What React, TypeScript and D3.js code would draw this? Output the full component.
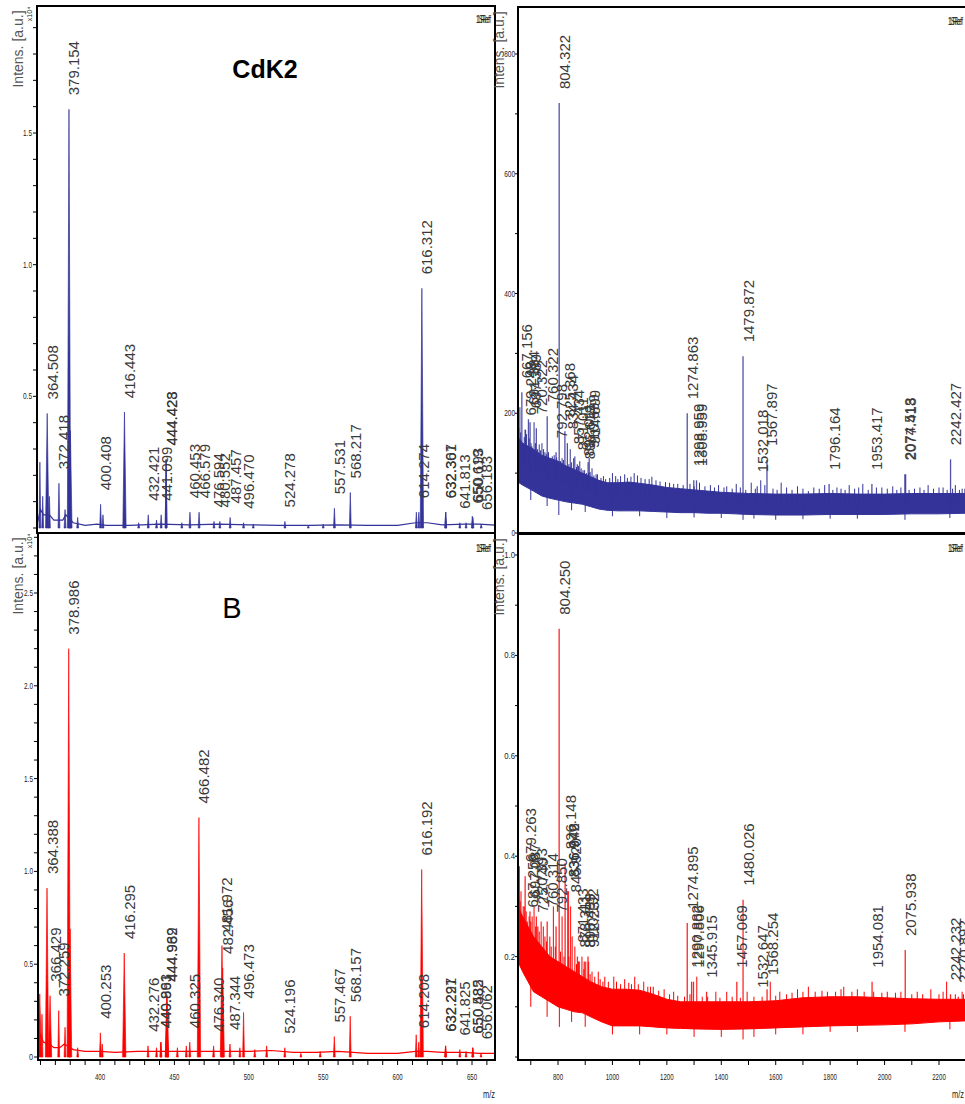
import React from 'react';
import * as d3 from 'd3';

const FONT = '"Liberation Sans", Arial, Helvetica, sans-serif';
const BLUE = '#333399';
const RED = '#ff0000';

// CdK2, low mass range (intensity x10^4): labelled peaks
const cdkLowPeaks: [number, number][] = [
  [364.508, 0.435], [372.418, 0.17], [379.154, 1.59], [400.408, 0.09], [416.443, 0.44],
  [432.421, 0.05], [441.099, 0.05], [444.423, 0.26], [444.428, 0.26], [460.453, 0.06],
  [466.579, 0.06], [476.594, 0.025], [480.552, 0.025], [487.457, 0.04], [496.470, 0.02],
  [524.278, 0.025], [557.531, 0.075], [568.217, 0.135], [614.274, 0.06], [616.312, 0.91],
  [632.307, 0.06], [632.361, 0.06], [641.813, 0.02], [650.193, 0.045], [650.619, 0.04],
  [656.183, 0.015],
];
const cdkLowMinor: [number, number][] = [
  [359.6, 0.25], [361.5, 0.12], [366.0, 0.12], [376.5, 0.07], [380.1, 0.37], [385, 0.04],
  [402, 0.05], [426, 0.02], [438, 0.03], [455, 0.02], [503, 0.015], [540, 0.01],
  [550, 0.015], [612.6, 0.06], [646, 0.02],
];
const cdkLowBaseline: [number, number][] = [
  [358, 0.02], [360, 0.07], [362, 0.05], [366, 0.05], [369, 0.03], [372, 0.03], [375, 0.03],
  [377, 0.05], [382, 0.02], [390, 0.01], [398, 0.015], [404, 0.01], [420, 0.01], [440, 0.015],
  [460, 0.012], [480, 0.015], [500, 0.012], [520, 0.01], [540, 0.01], [560, 0.012],
  [580, 0.01], [600, 0.01], [612, 0.02], [620, 0.02], [630, 0.012], [645, 0.015],
  [655, 0.015], [667, 0.01],
];

// CdK2, high mass range (counts)
const cdkHighPeaks: [number, number][] = [
  [667.156, 235], [679.248, 173], [691.384, 190], [697.389, 185], [720.322, 175],
  [760.322, 195], [792.798, 135], [804.322, 718], [825.368, 170], [834.434, 150],
  [857.434, 125], [871.011, 115], [892.011, 105], [896.619, 100], [910.699, 118],
  [914.699, 125], [1274.863, 200], [1298.959, 88], [1308.959, 88], [1479.872, 295],
  [1532.018, 78], [1567.897, 122], [1796.164, 82], [1953.417, 82], [2074.513, 98],
  [2077.418, 98], [2242.427, 123],
];
const cdkHighMinor: [number, number][] = [
  [656, 175], [660, 210], [663, 168], [672, 150], [676, 160], [681, 172], [684, 165],
  [694, 158], [701, 150], [704, 145], [712, 185], [717, 150], [725, 140], [731, 148],
  [736, 138], [741, 150], [747, 140], [752, 135], [757, 132], [765, 135], [772, 125],
  [779, 128], [786, 130], [795, 126], [809, 120], [815, 125], [820, 122], [840, 115],
  [845, 140], [850, 118], [862, 128], [868, 110], [875, 112], [880, 120], [885, 108],
  [898, 105], [905, 100], [912, 100], [918, 102], [925, 108], [932, 96], [940, 98],
  [945, 98], [958, 92], [967, 95], [975, 90], [990, 92], [1000, 100], [1012, 95],
  [1020, 90], [1030, 95], [1045, 98], [1055, 92], [1068, 94], [1080, 100], [1092, 96],
  [1105, 92], [1120, 90], [1135, 90], [1145, 94], [1160, 88], [1175, 86], [1195, 85],
  [1210, 84], [1225, 82], [1240, 82], [1260, 80], [1285, 82], [1300, 78], [1320, 84],
  [1340, 78], [1360, 80], [1375, 76], [1390, 80], [1410, 76], [1420, 78], [1440, 74],
  [1455, 82], [1470, 76], [1490, 72], [1510, 84], [1525, 74], [1545, 88], [1560, 80],
  [1590, 74], [1605, 72], [1620, 84], [1640, 76], [1660, 72], [1680, 78], [1700, 74],
  [1720, 70], [1740, 76], [1760, 74], [1780, 80], [1810, 72], [1825, 76], [1840, 74],
  [1855, 72], [1870, 80], [1890, 74], [1905, 76], [1920, 82], [1940, 72], [1970, 76],
  [1990, 76], [2010, 74], [2030, 78], [2045, 72], [2060, 76], [2090, 72], [2110, 74],
  [2130, 76], [2145, 72], [2160, 80], [2180, 74], [2200, 76], [2215, 76], [2230, 72],
  [2250, 74], [2260, 80], [2275, 72], [2285, 74], [2295, 74],
];
const cdkHighDips: [number, number][] = [
  [700, 55], [760, 45], [803, 30], [850, 38], [900, 35], [1000, 28], [1100, 28], [1200, 25],
  [1300, 26], [1400, 25], [1480, 22], [1520, 24], [1600, 22], [1700, 23], [1800, 24],
  [1900, 24], [2075, 22], [2240, 25],
];
// [m/z, lower edge, upper edge] of the noise band
const cdkHighNoise: [number, number, number][] = [
  [653, 85, 160], [670, 80, 150], [690, 75, 145], [710, 70, 140], [740, 62, 130],
  [770, 58, 125], [800, 55, 120], [830, 52, 112], [860, 50, 106], [890, 48, 100],
  [920, 44, 94], [950, 40, 88], [980, 38, 84], [1020, 37, 84], [1060, 37, 85],
  [1100, 37, 83], [1150, 36, 80], [1200, 35, 76], [1250, 34, 74], [1300, 34, 72],
  [1350, 33, 70], [1400, 33, 68], [1450, 32, 67], [1500, 31, 66], [1600, 30, 65],
  [1700, 30, 65], [1800, 31, 66], [1900, 31, 65], [2000, 31, 65], [2100, 32, 66],
  [2200, 32, 66], [2300, 33, 66],
];

// B, low mass range (intensity x10^4)
const bLowPeaks: [number, number][] = [
  [364.388, 0.91], [366.429, 0.33], [372.259, 0.25], [378.986, 2.2], [400.253, 0.13],
  [416.295, 0.56], [432.276, 0.06], [440.893, 0.08], [440.961, 0.08], [444.969, 0.33],
  [444.982, 0.33], [460.325, 0.08], [466.482, 1.29], [476.340, 0.06], [481.972, 0.6],
  [482.456, 0.48], [487.344, 0.07], [496.473, 0.24], [524.196, 0.05], [557.467, 0.11],
  [568.157, 0.22], [614.208, 0.08], [616.192, 1.01], [632.221, 0.06], [632.297, 0.06],
  [641.825, 0.04], [650.485, 0.05], [650.582, 0.05], [656.062, 0.02],
];
const bLowMinor: [number, number][] = [
  [359.5, 0.34], [361.0, 0.23], [376.5, 0.16], [379.9, 0.69], [385, 0.05], [401.5, 0.07],
  [438, 0.05], [452, 0.05], [458, 0.06], [494, 0.05], [504, 0.04], [512, 0.06], [535, 0.02],
  [548, 0.03], [612.5, 0.12], [646, 0.03],
];
const bLowBaseline: [number, number][] = [
  [358, 0.05], [360, 0.12], [362, 0.08], [366, 0.07], [369, 0.05], [373, 0.05], [376, 0.07],
  [382, 0.04], [390, 0.03], [400, 0.03], [410, 0.025], [425, 0.03], [440, 0.03], [455, 0.03],
  [470, 0.03], [485, 0.03], [500, 0.03], [515, 0.035], [530, 0.025], [545, 0.025],
  [560, 0.03], [580, 0.02], [600, 0.02], [612, 0.03], [620, 0.03], [630, 0.025],
  [645, 0.025], [655, 0.02], [667, 0.02],
];

// B, high mass range (intensity x10^4)
const bHighPeaks: [number, number][] = [
  [679.263, 0.36], [687.256, 0.27], [697.087, 0.29], [720.393, 0.28], [725.740, 0.26],
  [760.314, 0.27], [792.850, 0.26], [804.250, 0.853], [826.148, 0.386], [836.942, 0.33],
  [836.976, 0.33], [845.920, 0.3], [871.433, 0.2], [878.311, 0.19], [896.499, 0.19],
  [910.192, 0.2], [912.232, 0.19], [1274.895, 0.267], [1290.882, 0.15], [1297.806, 0.15],
  [1345.915, 0.13], [1457.069, 0.15], [1480.026, 0.313], [1532.647, 0.11], [1568.254, 0.135],
  [1954.081, 0.15], [2075.938, 0.213], [2242.232, 0.125], [2270.892, 0.12],
];
const bHighMinor: [number, number][] = [
  [656, 0.32], [658, 0.38], [661, 0.31], [664, 0.33], [672, 0.3], [676, 0.3], [683, 0.29],
  [694, 0.28], [700, 0.27], [705, 0.28], [712, 0.3], [718, 0.26], [731, 0.25], [738, 0.27],
  [746, 0.26], [752, 0.24], [758, 0.23], [770, 0.24], [775, 0.22], [783, 0.3], [790, 0.22],
  [809, 0.21], [815, 0.28], [822, 0.2], [840, 0.2], [852, 0.24], [862, 0.22], [868, 0.185],
  [875, 0.19], [888, 0.2], [895, 0.175], [902, 0.19], [918, 0.165], [925, 0.17], [935, 0.16],
  [948, 0.17], [955, 0.155], [965, 0.15], [972, 0.16], [985, 0.15], [1005, 0.16],
  [1015, 0.15], [1030, 0.145], [1045, 0.155], [1060, 0.148], [1070, 0.145], [1082, 0.16],
  [1095, 0.145], [1115, 0.15], [1130, 0.14], [1140, 0.14], [1150, 0.14], [1170, 0.132],
  [1190, 0.135], [1210, 0.125], [1225, 0.13], [1240, 0.122], [1265, 0.12], [1285, 0.125],
  [1310, 0.16], [1330, 0.12], [1350, 0.12], [1380, 0.13], [1395, 0.118], [1420, 0.13],
  [1440, 0.12], [1470, 0.118], [1495, 0.13], [1520, 0.12], [1550, 0.12], [1580, 0.15],
  [1600, 0.122], [1615, 0.13], [1640, 0.125], [1660, 0.128], [1680, 0.135], [1700, 0.13],
  [1720, 0.14], [1745, 0.13], [1770, 0.132], [1790, 0.13], [1820, 0.13], [1840, 0.135],
  [1850, 0.14], [1880, 0.13], [1900, 0.135], [1925, 0.13], [1960, 0.13], [1990, 0.128],
  [2010, 0.13], [2040, 0.128], [2060, 0.13], [2100, 0.125], [2120, 0.13], [2140, 0.125],
  [2170, 0.135], [2200, 0.125], [2215, 0.13], [2228, 0.15], [2260, 0.125], [2285, 0.13],
  [2290, 0.125],
];
const bHighDips: [number, number][] = [
  [700, 0.1], [760, 0.08], [805, 0.06], [850, 0.07], [900, 0.06], [1000, 0.045], [1100, 0.045],
  [1200, 0.045], [1300, 0.04], [1400, 0.04], [1480, 0.035], [1520, 0.04], [1600, 0.045],
  [1700, 0.045], [1800, 0.05], [1900, 0.05], [2075, 0.05], [2240, 0.055],
];
const bHighNoise: [number, number, number][] = [
  [653, 0.19, 0.3], [670, 0.17, 0.28], [690, 0.15, 0.26], [710, 0.13, 0.24], [740, 0.12, 0.22],
  [770, 0.11, 0.2], [800, 0.1, 0.19], [830, 0.095, 0.18], [860, 0.09, 0.17], [890, 0.088, 0.16],
  [920, 0.08, 0.15], [960, 0.07, 0.14], [1000, 0.062, 0.135], [1050, 0.062, 0.135],
  [1100, 0.062, 0.133], [1150, 0.06, 0.125], [1200, 0.058, 0.115], [1250, 0.057, 0.11],
  [1300, 0.056, 0.11], [1400, 0.055, 0.11], [1500, 0.056, 0.11], [1600, 0.058, 0.112],
  [1700, 0.06, 0.118], [1800, 0.062, 0.12], [1900, 0.063, 0.12], [2000, 0.064, 0.118],
  [2100, 0.066, 0.116], [2200, 0.07, 0.115], [2300, 0.072, 0.115],
];

const lowMassTicks = [400, 450, 500, 550, 600, 650];
const highMassTicks = [800, 1000, 1200, 1400, 1600, 1800, 2000, 2200];
const cdkLowIntensTicks = [0.5, 1.0, 1.5];
const bLowIntensTicks = [0, 0.5, 1.0, 1.5, 2.0, 2.5];
const cdkHighIntensTicks = [0, 200, 400, 600, 800];
const bHighIntensTicks = [0.2, 0.4, 0.6, 0.8, 1.0];

type Box = { l: number; t: number; r: number; b: number };
type Scale = d3.ScaleLinear<number, number>;

function PeakLabels({ peaks, x, y }: { peaks: [number, number][]; x: Scale; y: Scale }) {
  return (
    <g fontFamily={FONT} fontSize={15} fill="#3a3a3a">
      {peaks.map(([mz, h], i) => (
        <text key={i} transform={`translate(${x(mz) + 5},${y(h) - 14}) rotate(-90)`}
          dominantBaseline="central">{mz.toFixed(3)}</text>
      ))}
    </g>
  );
}

function Decor({ box, intensX, tagX, tagY }: { box: Box; intensX: number; tagX: number; tagY: number }) {
  const mid = box.t + 43;
  return (
    <g fontFamily={FONT}>
      <text transform={`translate(${intensX},${mid}) rotate(-90)`} textAnchor="middle"
        dominantBaseline="central" fontSize={14} fill="#555">Intens. [a.u.]</text>
      <text x={tagX} y={tagY} fontSize={11} textLength={15} lengthAdjust="spacingAndGlyphs" fill="#222">1SRef</text>
      <text x={tagX + 1} y={tagY} fontSize={11} textLength={13} lengthAdjust="spacingAndGlyphs" fill="#222">1Ref</text>
    </g>
  );
}

function LeftYAxis({ box, y, major, max, step }: { box: Box; y: Scale; major: number[]; max: number; step: number }) {
  const minor = d3.range(0, max + 1e-9, step);
  return (
    <g>
      {minor.map((v, i) => (
        <line key={i} x1={box.l - 4} x2={box.l} y1={y(v)} y2={y(v)} stroke="#000" strokeWidth={1} />
      ))}
      {major.map((v, i) => (
        <text key={i} x={box.l - 5} y={y(v) + 3} textAnchor="end" fontFamily={FONT} fontSize={9}
          textLength={v === 0 ? 4 : 9} lengthAdjust="spacingAndGlyphs" fill="#222">{v === 0 ? '0' : v.toFixed(1)}</text>
      ))}
    </g>
  );
}

function RightYAxis({ box, y, major, max, step, fmt }: { box: Box; y: Scale; major: number[]; max: number; step: number; fmt: (v: number) => string }) {
  const minor = d3.range(0, max + 1e-9, step);
  return (
    <g>
      {minor.map((v, i) => (
        <line key={i} x1={box.l - 3} x2={box.l} y1={y(v)} y2={y(v)} stroke="#000" strokeWidth={1} />
      ))}
      {major.map((v, i) => (
        <text key={i} x={box.l - 3} y={y(v) + 3} textAnchor="end" fontFamily={FONT} fontSize={9}
          textLength={fmt(v).length * 3.6} lengthAdjust="spacingAndGlyphs" fill="#222">{fmt(v)}</text>
      ))}
    </g>
  );
}

function XAxis({ box, x, major, from, to, step }: { box: Box; x: Scale; major: number[]; from: number; to: number; step: number }) {
  const minor = d3.range(from, to + 1e-9, step).filter(v => x(v) > box.l && x(v) < box.r);
  return (
    <g>
      {minor.map((v, i) => (
        <line key={i} x1={x(v)} x2={x(v)} y1={box.b} y2={box.b + 5} stroke="#000" strokeWidth={1} />
      ))}
      {major.map((v, i) => (
        <text key={i} x={x(v)} y={box.b + 20} textAnchor="middle" fontFamily={FONT} fontSize={9}
          textLength={String(v).length * 3.4} lengthAdjust="spacingAndGlyphs" fill="#222">{v}</text>
      ))}
    </g>
  );
}

function LowSpectrum({ id, box, x, y, peaks, minor, baseline, color }: {
  id: string; box: Box; x: Scale; y: Scale; peaks: [number, number][]; minor: [number, number][];
  baseline: [number, number][]; color: string;
}) {
  const line = d3.line<[number, number]>().x(d => x(d[0])).y(d => y(d[1]));
  // narrow spikes; the base widens a little for the taller peaks
  const tri = ([mz, h]: [number, number]) => {
    const w = h > 0.3 ? 1.1 : 0.6;
    return `M${x(mz - w)},${y(0)}L${x(mz)},${y(h)}L${x(mz + w)},${y(0)}Z`;
  };
  return (
    <g>
      <clipPath id={id}><rect x={box.l} y={box.t} width={box.r - box.l} height={box.b - box.t} /></clipPath>
      <g clipPath={`url(#${id})`}>
        <path d={line(baseline) || ''} fill="none" stroke={color} strokeWidth={1.2} />
        {[...minor, ...peaks].map((p, i) => (
          <path key={i} d={tri(p)} fill={color} stroke={color} strokeWidth={0.8} strokeOpacity={0.85} />
        ))}
        <PeakLabels peaks={peaks} x={x} y={y} />
      </g>
    </g>
  );
}

function HighSpectrum({ id, box, x, y, peaks, minor, dips, noise, color }: {
  id: string; box: Box; x: Scale; y: Scale; peaks: [number, number][]; minor: [number, number][];
  dips: [number, number][]; noise: [number, number, number][]; color: string;
}) {
  const area = d3.area<[number, number, number]>().x(d => x(d[0])).y0(d => y(d[1])).y1(d => y(d[2]));
  const base = d3.scaleLinear(noise.map(d => d[0]), noise.map(d => (d[1] + d[2]) / 2)).clamp(true);
  return (
    <g>
      <clipPath id={id}><rect x={box.l} y={box.t} width={box.r - box.l} height={box.b - box.t} /></clipPath>
      <g clipPath={`url(#${id})`}>
        <path d={area(noise) || ''} fill={color} stroke={color} strokeWidth={1} />
        {[...minor, ...dips].map(([mz, h], i) => (
          <line key={'m' + i} x1={x(mz)} x2={x(mz)} y1={y(base(mz))} y2={y(h)} stroke={color} strokeWidth={1} />
        ))}
        {peaks.map(([mz, h], i) => (
          <line key={'p' + i} x1={x(mz)} x2={x(mz)} y1={y(base(mz))} y2={y(h)} stroke={color} strokeWidth={1.3} strokeOpacity={0.85} />
        ))}
        <PeakLabels peaks={peaks} x={x} y={y} />
      </g>
    </g>
  );
}

export default function App() {
  const tl: Box = { l: 37, t: 6, r: 495, b: 533 };
  const tr: Box = { l: 518, t: 7, r: 975, b: 533 };
  const bl: Box = { l: 38, t: 533, r: 495, b: 1060 };
  const br: Box = { l: 518, t: 534, r: 975, b: 1060 };

  const lowX = d3.scaleLinear([400, 650], [100, 472]);
  const highX = d3.scaleLinear([800, 2200], [558, 939]);
  const tlY = d3.scaleLinear([0, 1.5], [528, 133]);
  const blY = d3.scaleLinear([0, 2.5], [1057, 593]);
  const trY = d3.scaleLinear([0, 800], [533, 54]);
  const brY = d3.scaleLinear([0, 1.0], [1057, 555]);

  return (
    <svg width={965} height={1104} style={{ position: 'absolute', left: 0, top: 0, background: '#fff' }}>
      <LowSpectrum id="c-tl" box={tl} x={lowX} y={tlY} peaks={cdkLowPeaks} minor={cdkLowMinor} baseline={cdkLowBaseline} color={BLUE} />
      <HighSpectrum id="c-tr" box={tr} x={highX} y={trY} peaks={cdkHighPeaks} minor={cdkHighMinor} dips={cdkHighDips} noise={cdkHighNoise} color={BLUE} />
      <LowSpectrum id="c-bl" box={bl} x={lowX} y={blY} peaks={bLowPeaks} minor={bLowMinor} baseline={bLowBaseline} color={RED} />
      <HighSpectrum id="c-br" box={br} x={highX} y={brY} peaks={bHighPeaks} minor={bHighMinor} dips={bHighDips} noise={bHighNoise} color={RED} />

      <LeftYAxis box={tl} y={tlY} major={cdkLowIntensTicks} max={1.95} step={0.1} />
      <LeftYAxis box={bl} y={blY} major={bLowIntensTicks} max={2.85} step={0.1} />
      <RightYAxis box={tr} y={trY} major={cdkHighIntensTicks} max={800} step={100} fmt={v => String(v)} />
      <RightYAxis box={br} y={brY} major={bHighIntensTicks} max={1.0} step={0.1} fmt={v => v.toFixed(1)} />
      <XAxis box={bl} x={lowX} major={lowMassTicks} from={360} to={670} step={10} />
      <XAxis box={br} x={highX} major={highMassTicks} from={700} to={2300} step={100} />

      {[tl, tr, bl, br].map((b, i) => (
        <rect key={i} x={b.l} y={b.t} width={b.r - b.l} height={b.b - b.t} fill="none" stroke="#000" strokeWidth={2} />
      ))}

      <Decor box={tl} intensX={18} tagX={476} tagY={23} />
      <Decor box={tr} intensX={499} tagX={948} tagY={25} />
      <Decor box={bl} intensX={18} tagX={476} tagY={552} />
      <Decor box={br} intensX={499} tagX={948} tagY={552} />

      <g fontFamily={FONT} fill="#222">
        <text transform="translate(32,14) rotate(-90)" fontSize={7} textAnchor="middle">x10⁴</text>
        <text transform="translate(32,541) rotate(-90)" fontSize={7} textAnchor="middle">x10⁴</text>
        <text x={483} y={1098} fontSize={11} textLength={12} lengthAdjust="spacingAndGlyphs">m/z</text>
        <text x={952} y={1098} fontSize={11} textLength={12} lengthAdjust="spacingAndGlyphs">m/z</text>
      </g>

      <text x={265} y={78} textAnchor="middle" fontFamily={FONT} fontWeight="bold" fontSize={25} fill="#000">CdK2</text>
      <text x={232} y={618} textAnchor="middle" fontFamily={FONT} fontSize={29} fill="#000">B</text>
    </svg>
  );
}
